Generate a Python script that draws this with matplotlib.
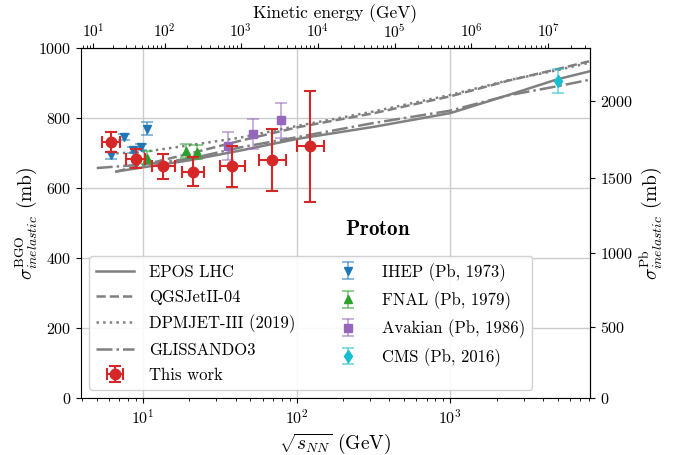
import matplotlib
matplotlib.use("Agg")
import matplotlib.pyplot as plt
import numpy as np

plt.rcParams["font.family"] = "serif"
plt.rcParams["font.serif"] = ["cmr10"]
plt.rcParams["mathtext.fontset"] = "cm"
plt.rcParams["axes.formatter.use_mathtext"] = True
plt.rcParams["axes.unicode_minus"] = False

M_P = 0.938

# model curves: sqrt(s_NN) [GeV] vs sigma_inel BGO [mb]
epos_x = [6.7, 10, 20, 43, 100, 320, 1000, 2400, 5000, 8000]
epos_y = [647, 659, 679, 707, 740, 775, 814, 866, 911, 933]
qgs_x = [6.7, 10, 20, 43, 100, 320, 1000, 2400, 5000, 8000]
qgs_y = [647, 666, 698, 735, 773, 814, 862, 907, 940, 962]
dpm_x = [6.7, 10, 20, 43, 100, 320, 1000, 2400, 5000, 8000]
dpm_y = [699, 703, 722, 744, 777, 819, 866, 908, 937, 958]
gli_x = [5.0, 10, 20, 43, 100, 320, 1000, 2400, 5000, 8000]
gli_y = [657, 667, 683, 716, 745, 786, 821, 865, 891, 909]

# this work
this_x = [6.18, 8.95, 13.6, 21.1, 38.1, 69.3, 123]
this_y = [731, 684, 662, 647, 662, 680, 719]
this_yerr = [29, 27, 36, 41, 59, 89, 158]
this_xlo = [0.79, 1.14, 2.08, 3.14, 6.5, 12.8, 21.9]
this_xhi = [0.90, 1.31, 2.45, 3.69, 7.8, 15.7, 26.6]

# other measurements
ihep_x = [6.18, 7.55, 8.57, 9.65, 10.6]
ihep_y = [693, 746, 709, 717, 769]
ihep_yerr = [10, 9, 9, 9, 19]
fnal_x = [10.7, 19.1, 22.5]
fnal_y = [687, 707, 702]
fnal_yerr = [19, 20, 20]
avak_x = [35.6, 51.8, 79.1]
avak_y = [719, 754, 793]
avak_yerr = [40, 43, 51]
cms_x = [5020]
cms_y = [905]
cms_yerr = [34]

GRAY = "#808080"


def sqrts_to_ek(x):
    x = np.asarray(x, dtype=float)
    return np.clip(x**2 / (2 * M_P) - 2 * M_P, 1e-3, None)


def ek_to_sqrts(e):
    e = np.clip(np.asarray(e, dtype=float), 0, None)
    return np.sqrt(2 * M_P * (e + 2 * M_P))


K_PB, P_PB = 0.3347, 1.031


def bgo_to_pb(y):
    y = np.clip(np.asarray(y, dtype=float), 0, None)
    return (y / K_PB) ** (1 / P_PB)


def pb_to_bgo(y):
    y = np.clip(np.asarray(y, dtype=float), 0, None)
    return K_PB * y**P_PB


fig = plt.figure(figsize=(6.77, 4.55), dpi=100)
ax = fig.add_axes([0.1196, 0.1253, 0.7519, 0.7692])

ax.plot(epos_x, epos_y, color=GRAY, lw=1.8, ls="-", label="EPOS LHC")
ax.plot(qgs_x, qgs_y, color=GRAY, lw=1.8, ls="--", label="QGSJetII-04")
ax.plot(dpm_x, dpm_y, color=GRAY, lw=1.8, ls=":", label="DPMJET-III (2019)")
ax.plot(gli_x, gli_y, color=GRAY, lw=1.8, ls="-.", label="GLISSANDO3")


def others(x, y, yerr, color, marker, label, ms=6):
    eb = ax.errorbar(x, y, yerr=yerr, fmt=marker, color=color, ms=ms,
                     capsize=4, elinewidth=1.2, capthick=1.2, label=label)
    for c in eb[1]:
        c.set_alpha(0.6)
    for b in eb[2]:
        b.set_alpha(0.6)
    return eb


ax.errorbar(this_x, this_y, yerr=this_yerr, xerr=[this_xlo, this_xhi],
            fmt="o", color="tab:red", ms=7.5, capsize=4, elinewidth=1.5,
            capthick=1.5, label="This work", zorder=5)
others(ihep_x, ihep_y, ihep_yerr, "tab:blue", "v", "IHEP (Pb, 1973)")
others(fnal_x, fnal_y, fnal_yerr, "tab:green", "^", "FNAL (Pb, 1979)")
others(avak_x, avak_y, avak_yerr, "tab:purple", "s", "Avakian (Pb, 1986)")
others(cms_x, cms_y, cms_yerr, "tab:cyan", "d", "CMS (Pb, 2016)")

ax.set_xscale("log")
ax.set_xlim(3.95, 8100)
ax.set_ylim(0, 1000)
ax.set_yticks([0, 200, 400, 600, 800, 1000])
ax.grid(True, which="major", color="#cccccc", lw=1)
ax.tick_params(labelsize=11.5)
ax.set_xlabel(r"$\sqrt{s_{NN}}$ (GeV)", fontsize=14)
ax.set_ylabel(r"$\sigma^{\rm BGO}_{inelastic}$ (mb)", fontsize=14, labelpad=-1)

top = ax.secondary_xaxis("top", functions=(sqrts_to_ek, ek_to_sqrts))
top.set_xticks([1e1, 1e2, 1e3, 1e4, 1e5, 1e6, 1e7])
top.set_xlabel("Kinetic energy (GeV)", fontsize=12.5, labelpad=3)
top.tick_params(labelsize=11, pad=1.5)

right = ax.secondary_yaxis("right", functions=(bgo_to_pb, pb_to_bgo))
right.set_yticks([0, 500, 1000, 1500, 2000])
right.set_ylabel(r"$\sigma^{\rm Pb}_{inelastic}$ (mb)", fontsize=14)
right.tick_params(labelsize=11.5)

ax.text(0.583, 0.48, r"$\mathbf{Proton}$", transform=ax.transAxes,
        fontsize=15, ha="center", va="center")

handles, labels = ax.get_legend_handles_labels()
ax.legend(handles, labels, loc="lower left", ncol=2, fontsize=12,
          columnspacing=2.0, handlelength=2.3, handletextpad=0.9,
          labelspacing=0.58, framealpha=0.9)

fig.savefig("out.png", dpi=100)
